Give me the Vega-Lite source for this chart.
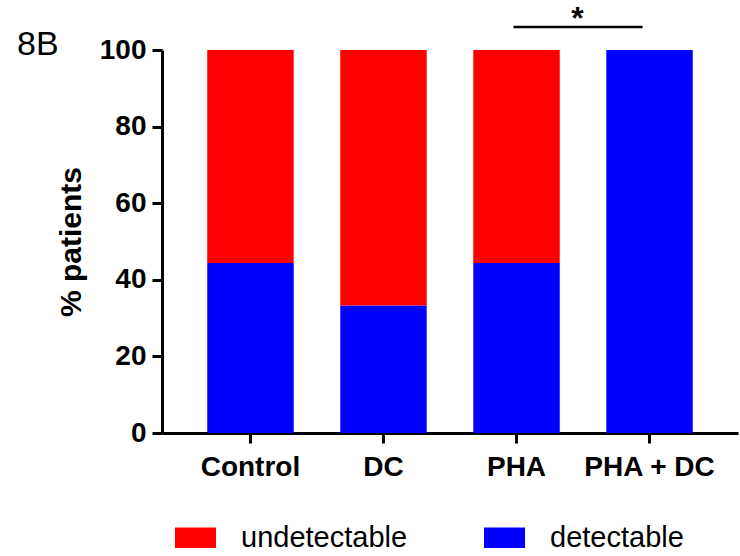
{
  "$schema": "https://vega.github.io/schema/vega-lite/v6.json",
  "width": 576,
  "height": 383,
  "autosize": "none",
  "padding": {"left": 162, "top": 50, "right": 2, "bottom": 123},
  "background": "white",
  "config": {"view": {"stroke": null}, "font": "Liberation Sans"},
  "title": {"text": "8B", "anchor": "start", "frame": "group", "fontSize": 34, "fontWeight": "normal", "font": "Liberation Sans", "color": "black", "baseline": "alphabetic", "offset": 0, "dx": -145, "dy": 86},
  "layer": [
    {
      "data": {"values": [
        {"group": "Control", "status": "detectable", "pct": 44.4},
        {"group": "Control", "status": "undetectable", "pct": 55.6},
        {"group": "DC", "status": "detectable", "pct": 33.3},
        {"group": "DC", "status": "undetectable", "pct": 66.7},
        {"group": "PHA", "status": "detectable", "pct": 44.4},
        {"group": "PHA", "status": "undetectable", "pct": 55.6},
        {"group": "PHA + DC", "status": "detectable", "pct": 100},
        {"group": "PHA + DC", "status": "undetectable", "pct": 0}
      ]},
      "mark": {"type": "bar"},
      "encoding": {
        "x": {"field": "group", "type": "nominal",
          "scale": {"domain": ["Control", "DC", "PHA", "PHA + DC"], "paddingInner": 0.35, "paddingOuter": 0.34},
          "axis": {"title": null, "labelAngle": 0, "labelFont": "Liberation Sans", "labelFontSize": 28, "labelFontWeight": "bold", "labelColor": "black", "labelPadding": 10, "tickSize": 10, "tickWidth": 3, "tickColor": "black", "domainColor": "black", "domainWidth": 3}},
        "y": {"field": "pct", "type": "quantitative", "stack": "zero",
          "scale": {"domain": [0, 100], "nice": false},
          "axis": {"title": "% patients", "values": [0, 20, 40, 60, 80, 100], "grid": false, "labelFont": "Liberation Sans", "labelFontSize": 28, "labelFontWeight": "bold", "labelColor": "black", "labelPadding": 6, "tickSize": 10, "tickWidth": 3, "tickColor": "black", "domainColor": "black", "domainWidth": 3, "titleFont": "Liberation Sans", "titleFontSize": 30, "titleFontWeight": "bold", "titleColor": "black", "titlePadding": 13}},
        "color": {"field": "status", "type": "nominal",
          "scale": {"domain": ["undetectable", "detectable"], "range": ["#ff0000", "#0000ff"]},
          "legend": {"title": null, "orient": "none", "direction": "horizontal", "legendX": 13, "legendY": 467, "padding": 0,
            "symbolType": "M-1,-0.5H1V0.5H-1Z", "symbolSize": 1681, "symbolStrokeWidth": 0, "symbolOpacity": 1,
            "labelFont": "Liberation Sans", "labelFontSize": 29, "labelColor": "black", "labelOffset": 25, "columnPadding": 76, "labelLimit": 400}},
        "order": {"field": "status", "sort": "ascending"}
      }
    },
    {
      "data": {"values": [{"from": "PHA", "to": "PHA + DC", "y": 106, "label": "*"}]},
      "mark": {"type": "rule", "strokeWidth": 2.3, "color": "black", "xOffset": -3, "x2Offset": -7},
      "encoding": {
        "x": {"field": "from", "type": "nominal"},
        "x2": {"field": "to"},
        "y": {"field": "y", "type": "quantitative"}
      }
    },
    {
      "data": {"values": [{"from": "PHA", "to": "PHA + DC", "y": 106, "label": "*"}]},
      "mark": {"type": "text", "fontSize": 32, "fontWeight": "bold", "font": "Liberation Sans", "color": "black", "baseline": "alphabetic", "dx": 61, "dy": 2},
      "encoding": {
        "x": {"field": "from", "type": "nominal"},
        "y": {"field": "y", "type": "quantitative"},
        "text": {"field": "label"}
      }
    }
  ]
}
